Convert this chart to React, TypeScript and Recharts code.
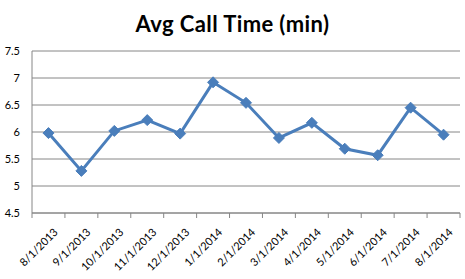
import { CartesianGrid, Line, LineChart, XAxis, YAxis } from 'recharts';

const months = [
  '8/1/2013', '9/1/2013', '10/1/2013', '11/1/2013', '12/1/2013', '1/1/2014', '2/1/2014',
  '3/1/2014', '4/1/2014', '5/1/2014', '6/1/2014', '7/1/2014', '8/1/2014'
];
const callTimes = [5.98, 5.28, 6.02, 6.22, 5.97, 6.92, 6.54, 5.89, 6.17, 5.69, 5.57, 6.45, 5.95];
const yTicks = [4.5, 5, 5.5, 6, 6.5, 7, 7.5];

const FONT = 'Lato, "Open Sans", sans-serif';
const BLUE = '#4A7EBB';
const GRID = '#868686';

// x sits in the middle of each month slot so the boundary ticks land between points
const chartData = months.map((m, i) => ({ x: i + 0.5, month: m, value: callTimes[i] }));
const boundaryTicks = months.map((_, i) => i).concat(months.length);
const labelTicks = months.map((_, i) => i + 0.5);

function DateTick({ x, y, payload }: { x: number; y: number; payload: { value: number } }) {
  const label = months[Math.round(payload.value - 0.5)];
  const ax = x + 10;
  const ay = y + 12;
  return (
    <text
      x={ax}
      y={ay}
      textAnchor="end"
      transform={`rotate(-45 ${ax} ${ay})`}
      fill="#000"
      fontSize={11}
      fontFamily={FONT}
    >
      {label}
    </text>
  );
}

function Diamond({ cx, cy }: { cx?: number; cy?: number }) {
  if (cx == null || cy == null) return null;
  const r = 5.5;
  return (
    <polygon
      points={`${cx},${cy - r} ${cx + r},${cy} ${cx},${cy + r} ${cx - r},${cy}`}
      fill={BLUE}
      stroke={BLUE}
      strokeWidth={1}
    />
  );
}

export default function App() {
  return (
    <div style={{ position: 'absolute', left: 0, top: 0, width: 465, height: 279, background: '#fff' }}>
      <div
        style={{
          position: 'absolute',
          left: 0,
          top: 10,
          width: 465,
          textAlign: 'center',
          fontFamily: FONT,
          fontWeight: 700,
          fontSize: 22,
          letterSpacing: 0.4,
          color: '#000'
        }}
      >
        Avg Call Time (min)
      </div>
      <LineChart width={465} height={279} data={chartData} margin={{ top: 51, right: 5, bottom: 0, left: 0 }}>
        <CartesianGrid stroke={GRID} vertical={false} />
        <XAxis
          dataKey="x"
          type="number"
          domain={[0, months.length]}
          ticks={boundaryTicks}
          tickFormatter={() => ''}
          tickSize={5}
          height={6}
          stroke={GRID}
          axisLine={{ stroke: GRID }}
          tickLine={{ stroke: GRID }}
          interval={0}
        />
        <XAxis
          xAxisId="labels"
          dataKey="x"
          type="number"
          domain={[0, months.length]}
          ticks={labelTicks}
          axisLine={false}
          tickLine={false}
          tickSize={0}
          height={60}
          interval={0}
          tick={DateTick}
        />
        <YAxis
          domain={[4.5, 7.5]}
          ticks={yTicks}
          width={32}
          axisLine={{ stroke: GRID }}
          tickLine={false}
          tickSize={0}
          tickMargin={12}
          tick={{ fill: '#000', fontSize: 11, fontFamily: FONT }}
          interval={0}
        />
        <Line
          dataKey="value"
          stroke={BLUE}
          strokeWidth={3}
          dot={<Diamond />}
          activeDot={false}
          isAnimationActive={false}
        />
      </LineChart>
    </div>
  );
}
